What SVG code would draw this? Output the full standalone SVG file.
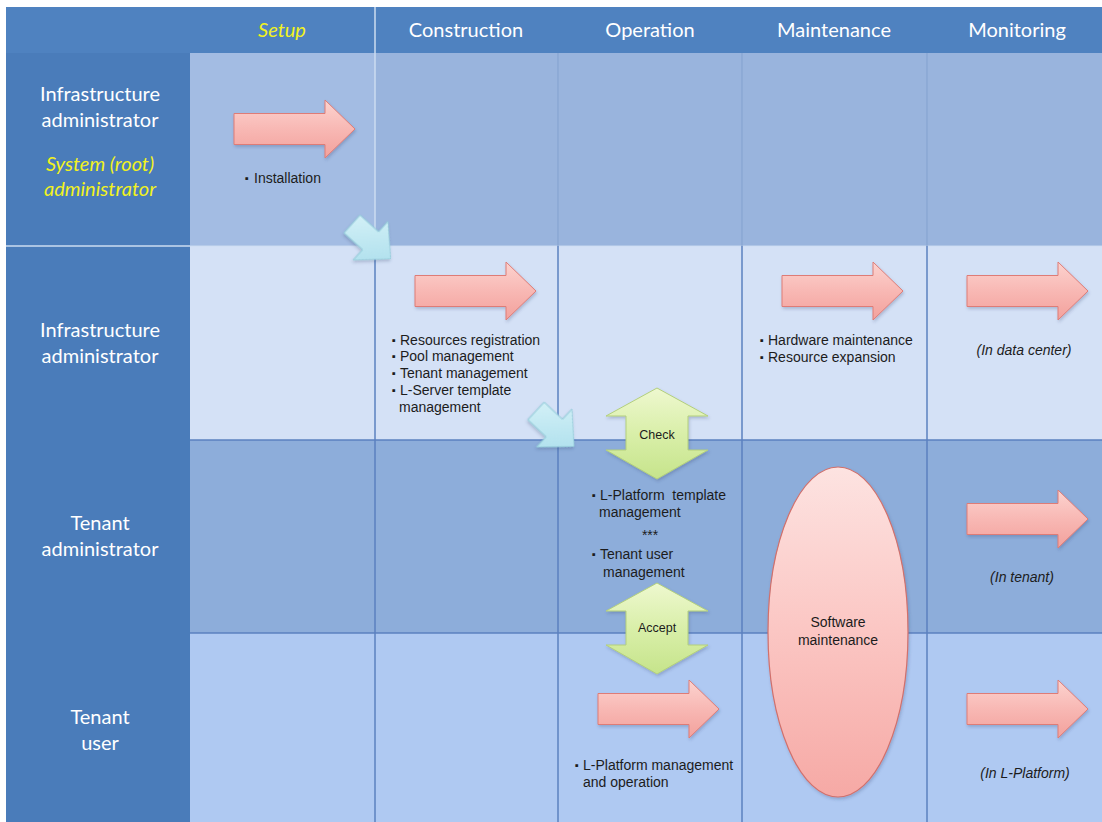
<svg xmlns="http://www.w3.org/2000/svg" width="1102" height="822" viewBox="0 0 1102 822">
  <defs>
    <style>
      .lane-title { font-family: Lato, "Open Sans", sans-serif; font-size: 20px; fill: #ffffff; text-anchor: middle; }
      .lane-title-hl { font-family: Lato, "Open Sans", sans-serif; font-size: 20px; fill: #f2f21e; font-style: italic; text-anchor: middle; }
      .body { font-family: "Liberation Sans", Arial, sans-serif; font-size: 14px; fill: #1c1c1c; }
      .small { font-size: 12.5px; }
      .note { font-family: "Liberation Sans", Arial, sans-serif; font-size: 14px; fill: #1c1c1c; font-style: italic; text-anchor: middle; }
      .mid { text-anchor: middle; }
      .bul { font-size: 11px; }
      .pre { white-space: pre; }
      .grid-dark { stroke: #5b80bf; stroke-width: 1.5; fill: none; }
      .grid-faint { stroke: #86a4d2; stroke-width: 1.2; fill: none; }
      .grid-light { stroke: #cddcf1; stroke-width: 1.5; fill: none; }
      .red-arrow { fill: url(#redGrad); stroke: #de7c77; stroke-width: 1; filter: url(#shadow); }
      .green-arrow { fill: url(#greenGrad); stroke: #b3cf7c; stroke-width: 1; filter: url(#shadow); }
      .blue-arrow { fill: url(#blueGrad); stroke: #92cbd9; stroke-width: 1; filter: url(#shadow); }
    </style>
    <linearGradient id="redGrad" x1="0" y1="0" x2="0" y2="1">
      <stop offset="0" stop-color="#fcd3cf"/>
      <stop offset="0.5" stop-color="#f8b8b4"/>
      <stop offset="1" stop-color="#f3a19c"/>
    </linearGradient>
    <linearGradient id="ovalGrad" x1="0" y1="0" x2="0" y2="1">
      <stop offset="0" stop-color="#fde3e1"/>
      <stop offset="0.5" stop-color="#fbc6c3"/>
      <stop offset="1" stop-color="#f6a9a5"/>
    </linearGradient>
    <linearGradient id="greenGrad" x1="0" y1="0" x2="0" y2="1">
      <stop offset="0" stop-color="#eef8cf"/>
      <stop offset="0.5" stop-color="#d9efa9"/>
      <stop offset="1" stop-color="#c6e48b"/>
    </linearGradient>
    <linearGradient id="blueGrad" x1="0" y1="0" x2="1" y2="1">
      <stop offset="0" stop-color="#d9f3f8"/>
      <stop offset="1" stop-color="#a6dceb"/>
    </linearGradient>
    <filter id="shadow" x="-20%" y="-20%" width="150%" height="150%">
      <feDropShadow dx="1" dy="2" stdDeviation="1.5" flood-color="#2a3f66" flood-opacity="0.25"/>
    </filter>
    <!-- block arrow pointing right, 121 x 58 -->
    <path id="rightArrow" d="M0,13.5 H91 V0 L121,29 L91,58 V44.5 H0 Z"/>
    <!-- two-headed vertical arrow, centred on x = 0 -->
    <path id="upDownArrow" d="M0,0 L51,28 H31 V62 H51 L0,91 L-51,62 H-31 V28 H-51 Z"/>
    <!-- short hand-off arrow along +x, tail centre at origin -->
    <path id="handoffArrow" d="M0,-12 H25 V-26 L52,0 L25,26 V12 H0 Z"/>
  </defs>

  <rect width="1102" height="822" fill="#ffffff"/>

  <!-- lane backgrounds -->
  <g id="lanes">
    <rect x="6" y="7" width="1096" height="46" fill="#4f82c0"/>
    <rect x="6" y="53" width="184" height="769" fill="#4a7cba"/>
    <rect x="190" y="53" width="912" height="193" fill="#99b4dd"/>
    <rect x="190" y="53" width="185" height="193" fill="#a3bce3"/>
    <rect x="190" y="246" width="912" height="194" fill="#d4e1f6"/>
    <rect x="190" y="440" width="912" height="193" fill="#8dadda"/>
    <rect x="190" y="633" width="912" height="189" fill="#afc9f2"/>
  </g>

  <!-- grid lines -->
  <g id="grid">
    <line class="grid-light" x1="6" y1="246" x2="190" y2="246"/>
    <line class="grid-light" x1="190" y1="246" x2="1102" y2="246" stroke-opacity="0.6"/>
    <line class="grid-dark" x1="190" y1="440" x2="1102" y2="440"/>
    <line class="grid-dark" x1="190" y1="633" x2="1102" y2="633"/>
    <line class="grid-light" x1="375" y1="7" x2="375" y2="246"/>
    <line class="grid-faint" x1="558" y1="53" x2="558" y2="246"/>
    <line class="grid-faint" x1="742" y1="53" x2="742" y2="246"/>
    <line class="grid-faint" x1="927" y1="53" x2="927" y2="246"/>
    <line class="grid-dark" x1="375" y1="246" x2="375" y2="822"/>
    <line class="grid-dark" x1="558" y1="246" x2="558" y2="822"/>
    <line class="grid-dark" x1="742" y1="246" x2="742" y2="822"/>
    <line class="grid-dark" x1="927" y1="246" x2="927" y2="822"/>
  </g>

  <!-- phase headings -->
  <g id="phase-setup"><text class="lane-title-hl" x="282" y="37">Setup</text></g>
  <g id="phase-construction"><text class="lane-title" x="466" y="37">Construction</text></g>
  <g id="phase-operation"><text class="lane-title" x="650" y="37">Operation</text></g>
  <g id="phase-maintenance"><text class="lane-title" x="834" y="37">Maintenance</text></g>
  <g id="phase-monitoring"><text class="lane-title" x="1017" y="37">Monitoring</text></g>

  <!-- role headings -->
  <g id="role-system-admin">
    <text class="lane-title" x="100" y="101">Infrastructure</text>
    <text class="lane-title" x="100" y="127">administrator</text>
    <text class="lane-title-hl" x="100" y="171">System (root)</text>
    <text class="lane-title-hl" x="100" y="196">administrator</text>
  </g>
  <g id="role-infra-admin">
    <text class="lane-title" x="100" y="337">Infrastructure</text>
    <text class="lane-title" x="100" y="363">administrator</text>
  </g>
  <g id="role-tenant-admin">
    <text class="lane-title" x="100" y="530">Tenant</text>
    <text class="lane-title" x="100" y="556">administrator</text>
  </g>
  <g id="role-tenant-user">
    <text class="lane-title" x="100" y="724">Tenant</text>
    <text class="lane-title" x="100" y="750">user</text>
  </g>

  <!-- setup: installation -->
  <g id="task-installation">
    <use href="#rightArrow" class="red-arrow" transform="translate(234,100)"/>
    <text class="body"><tspan class="bul" x="245" y="182">▪</tspan><tspan x="254" y="183">Installation</tspan></text>
  </g>

  <!-- construction by infrastructure administrator -->
  <g id="task-construction">
    <use href="#rightArrow" class="red-arrow" transform="translate(415,262)"/>
    <text class="body">
      <tspan class="bul" x="392" y="344">▪</tspan><tspan x="400" y="345">Resources registration</tspan>
      <tspan class="bul" x="392" y="360">▪</tspan><tspan x="400" y="361">Pool management</tspan>
      <tspan class="bul" x="392" y="377">▪</tspan><tspan x="400" y="378">Tenant management</tspan>
      <tspan class="bul" x="392" y="394">▪</tspan><tspan x="400" y="395">L-Server template</tspan>
      <tspan x="399" y="412">management</tspan>
    </text>
  </g>

  <!-- maintenance by infrastructure administrator -->
  <g id="task-hw-maintenance">
    <use href="#rightArrow" class="red-arrow" transform="translate(782,262)"/>
    <text class="body">
      <tspan class="bul" x="760" y="344">▪</tspan><tspan x="768" y="345">Hardware maintenance</tspan>
      <tspan class="bul" x="760" y="361">▪</tspan><tspan x="768" y="362">Resource expansion</tspan>
    </text>
  </g>

  <!-- monitoring tasks -->
  <g id="monitor-datacenter">
    <use href="#rightArrow" class="red-arrow" transform="translate(967,262)"/>
    <text class="note" x="1024" y="355">(In data center)</text>
  </g>
  <g id="monitor-tenant">
    <use href="#rightArrow" class="red-arrow" transform="translate(967,490)"/>
    <text class="note" x="1022" y="582">(In tenant)</text>
  </g>
  <g id="monitor-lplatform">
    <use href="#rightArrow" class="red-arrow" transform="translate(967,680)"/>
    <text class="note" x="1025" y="778">(In L-Platform)</text>
  </g>

  <!-- operation by tenant administrator -->
  <g id="task-tenant-admin">
    <text class="body">
      <tspan class="bul" x="592" y="499">▪</tspan><tspan class="pre" x="600" y="500">L-Platform  template</tspan>
      <tspan x="599" y="517">management</tspan>
      <tspan x="652" y="540" text-anchor="middle">***</tspan>
      <tspan class="bul" x="592" y="558">▪</tspan><tspan x="600" y="559">Tenant user</tspan>
      <tspan x="603" y="577">management</tspan>
    </text>
  </g>

  <!-- operation by tenant user -->
  <g id="task-tenant-user">
    <use href="#rightArrow" class="red-arrow" transform="translate(598,680)"/>
    <text class="body">
      <tspan class="bul" x="575" y="769">▪</tspan><tspan x="583" y="770">L-Platform management</tspan>
      <tspan x="583" y="787">and operation</tspan>
    </text>
  </g>

  <!-- check / accept exchanges -->
  <g id="exchange-check">
    <use href="#upDownArrow" class="green-arrow" transform="translate(657,388)"/>
    <text class="body small mid" x="657" y="439">Check</text>
  </g>
  <g id="exchange-accept">
    <use href="#upDownArrow" class="green-arrow" transform="translate(657,583)"/>
    <text class="body small mid" x="657" y="632">Accept</text>
  </g>

  <!-- software maintenance spanning tenant rows -->
  <g id="task-software-maintenance">
    <ellipse cx="838" cy="632" rx="70" ry="165" fill="url(#ovalGrad)" stroke="#d2706b" stroke-width="1.2" filter="url(#shadow)"/>
    <text class="body mid" x="838" y="627">Software</text>
    <text class="body mid" x="838" y="645">maintenance</text>
  </g>

  <!-- hand-offs between roles -->
  <g id="connectors">
    <use href="#handoffArrow" class="blue-arrow" transform="translate(352,224) rotate(42)"/>
    <use href="#handoffArrow" class="blue-arrow" transform="translate(536,411) rotate(43)"/>
  </g>
</svg>
